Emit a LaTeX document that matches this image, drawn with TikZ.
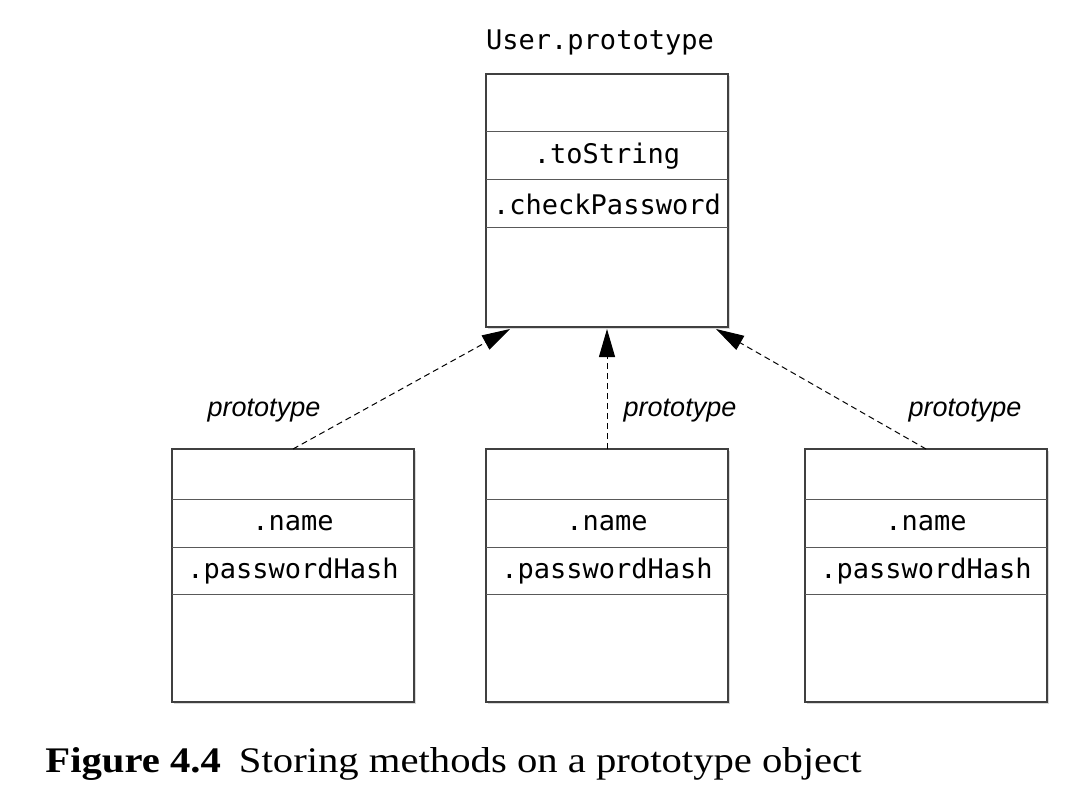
\documentclass[tikz,border=0pt]{standalone}
\usepackage{fontspec}
\setmainfont{Liberation Serif}
\setsansfont{Liberation Sans}
\setmonofont{DejaVu Sans Mono}
\usetikzlibrary{arrows.meta}
\usetikzlibrary{shadows}
\usetikzlibrary{calc}

\begin{document}
\begin{tikzpicture}[x=0.5pt,y=-0.5pt,
    obj/.style={draw=black!75,line width=0.7pt,fill=white,inner sep=0pt,outer sep=0pt,
        anchor=north west,minimum width=121pt,minimum height=126.5pt,
        drop shadow={shadow xshift=1.2pt,shadow yshift=-1.2pt,opacity=0.3}},
    div/.style={draw=black!65,line width=0.5pt},
    field/.style={font=\fontsize{13.5}{16}\selectfont\ttfamily,inner sep=0pt},
    lbl/.style={font=\fontsize{13.5}{16}\selectfont\sffamily\itshape,inner sep=0pt},
    link/.style={densely dashed,dash pattern=on 3pt off 2pt,line width=0.5pt,
        -{Triangle[length=14pt,width=8pt]}}]
    \useasboundingbox (0,0) rectangle (1086,786);

    % 原型对象
    \node[field,anchor=base] (title) at (600,50) {User.prototype};
    \node[obj] (up) at (486,74) {};
    \foreach \d in {58,106,154}
        \draw[div] ($(up.north west)+(0,\d)$) -- ($(up.north east)+(0,\d)$);
    \node[field] (ts) at ($(up.north)+(0,82)$) {.toString};
    \node[field] (cp) at ($(up.north)+(0,130)$) {.checkPassword};

    % 三个实例
    \foreach \n/\x in {ua/172,ub/486,uc/805} {
        \node[obj] (\n) at (\x,449) {};
        \foreach \d in {50,98,145}
            \draw[div] ($(\n.north west)+(0,\d)$) -- ($(\n.north east)+(0,\d)$);
        \node[field] (\n-name) at ($(\n.north)+(0,74)$) {.name};
        \node[field] (\n-hash) at ($(\n.north)+(0,122)$) {.passwordHash};
    }

    % 箭头
    \coordinate (inl) at ($(up.south west)+(24,2)$);
    \coordinate (inm) at ($(up.south)+(0,2)$);
    \coordinate (inr) at ($(up.south east)+(-12,2)$);
    \draw[link] (ua.north) -- (inl);
    \draw[link] (ub.north) -- (inm);
    \draw[link] (uc.north) -- (inr);
    \node[lbl] (pa) at (264,411) {prototype};
    \node[lbl] (pb) at (680,411) {prototype};
    \node[lbl] (pc) at (965,411) {prototype};

    % 图题
    \node[anchor=base west,inner sep=0pt,font=\fontsize{18}{22}\selectfont] (cap) at (45,772)
        {\scalebox{1.13}[1]{\textbf{Figure 4.4}\hspace{8pt}Storing methods on a prototype object}};
\end{tikzpicture}
\end{document}
